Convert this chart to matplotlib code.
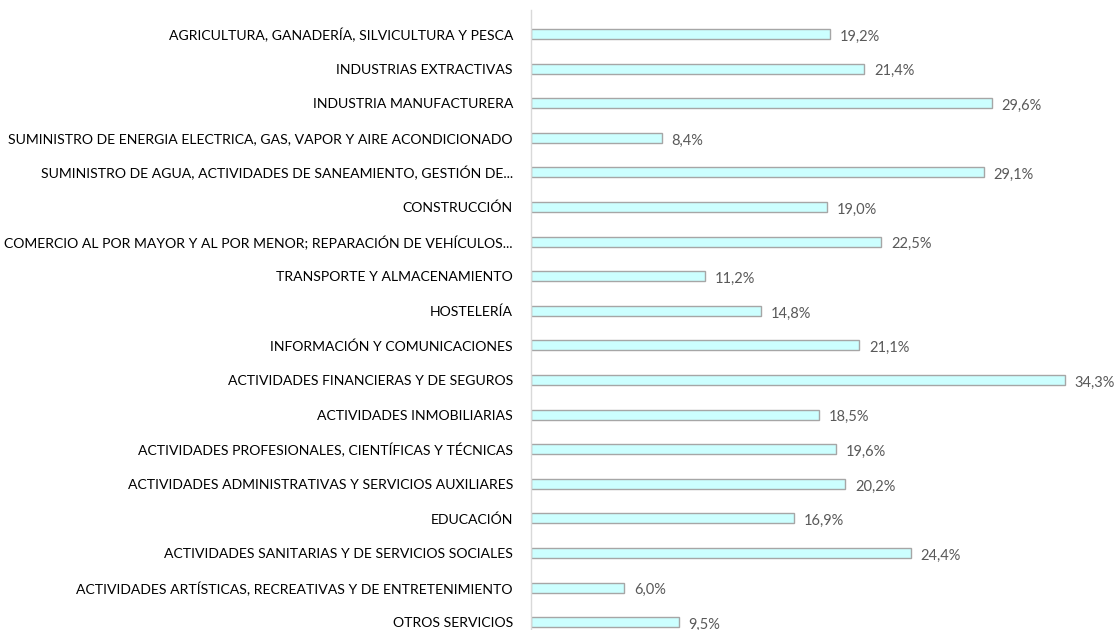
import matplotlib
matplotlib.use("Agg")
import matplotlib.pyplot as plt

categories = [
    "AGRICULTURA, GANADERÍA, SILVICULTURA Y PESCA",
    "INDUSTRIAS EXTRACTIVAS",
    "INDUSTRIA MANUFACTURERA",
    "SUMINISTRO DE ENERGIA ELECTRICA, GAS, VAPOR Y AIRE ACONDICIONADO",
    "SUMINISTRO DE AGUA, ACTIVIDADES DE SANEAMIENTO, GESTIÓN DE...",
    "CONSTRUCCIÓN",
    "COMERCIO AL POR MAYOR Y AL POR MENOR; REPARACIÓN DE VEHÍCULOS...",
    "TRANSPORTE Y ALMACENAMIENTO",
    "HOSTELERÍA",
    "INFORMACIÓN Y COMUNICACIONES",
    "ACTIVIDADES FINANCIERAS Y DE SEGUROS",
    "ACTIVIDADES INMOBILIARIAS",
    "ACTIVIDADES PROFESIONALES, CIENTÍFICAS Y TÉCNICAS",
    "ACTIVIDADES ADMINISTRATIVAS Y SERVICIOS AUXILIARES",
    "EDUCACIÓN",
    "ACTIVIDADES SANITARIAS Y DE SERVICIOS SOCIALES",
    "ACTIVIDADES ARTÍSTICAS, RECREATIVAS Y DE ENTRETENIMIENTO",
    "OTROS SERVICIOS",
]
values = [19.2, 21.4, 29.6, 8.4, 29.1, 19.0, 22.5, 11.2, 14.8, 21.1,
          34.3, 18.5, 19.6, 20.2, 16.9, 24.4, 6.0, 9.5]

plt.rcParams['font.family'] = ['Lato', 'DejaVu Sans']

W, H = 1120, 630
fig = plt.figure(figsize=(W / 100, H / 100), dpi=100)
x0, x1 = 531, 1110
ax = fig.add_axes([x0 / W, 0.0, (x1 - x0) / W, (630 - 10) / H])

ypos = list(range(len(categories)))
ax.barh(ypos, values, height=0.29, color="#CCFFFF", edgecolor="#A6A6A6",
        linewidth=1.0)

px_per_unit = (1065 - x0) / 34.3
ax.set_xlim(0, (x1 - x0) / px_per_unit)
step = 34.6
ax.set_ylim((630 - 34) / step, (10 - 34) / step)

for y, v in zip(ypos, values):
    ax.annotate(f"{v:.1f}".replace(".", ",") + "%", (v, y),
                xytext=(7, -2), textcoords="offset points",
                ha="left", va="center", fontsize=10.5, color="#595959")

ax.set_yticks(ypos)
ax.set_yticklabels(categories, fontsize=10.1, color="#000000")
ax.tick_params(axis="y", length=0, pad=13)
ax.set_xticks([])
for s in ["top", "right", "bottom"]:
    ax.spines[s].set_visible(False)
ax.spines["left"].set_color("#D9D9D9")
ax.spines["left"].set_linewidth(1.0)

fig.savefig("out.png", dpi=100)
